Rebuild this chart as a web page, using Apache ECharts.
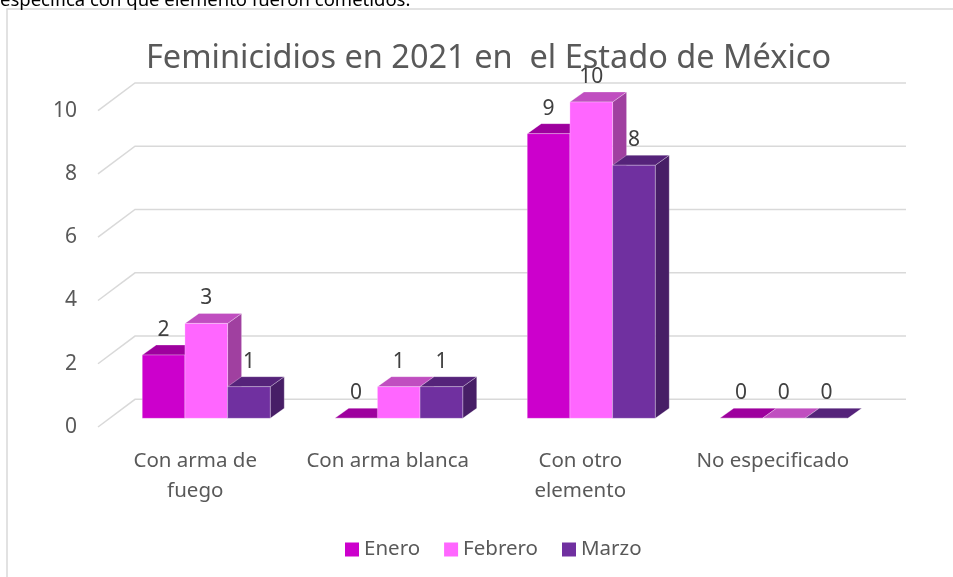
<!DOCTYPE html>
<html>
<head>
<meta charset="utf-8">
<script src="https://cdn.jsdelivr.net/npm/echarts@6/dist/echarts.min.js"></script>
<style>
  html, body { margin: 0; padding: 0; background: #fff; }
  #chart { width: 953px; height: 577px; }
</style>
</head>
<body>
<div id="chart"></div>
<script>
// datos
const categories = ['Con arma de\nfuego', 'Con arma blanca', 'Con otro\nelemento', 'No especificado'];
const enero = [2, 0, 9, 0];
const febrero = [3, 1, 10, 0];
const marzo = [1, 1, 8, 0];
const yTicks = [0, 2, 4, 6, 8, 10];

const FONT = '"Noto Sans", sans-serif';
const DEPTH_X = 14, DEPTH_Y = 10;   // profundidad de cada barra
const BAR_SHIFT = -8.7;             // plano frontal de las barras respecto a las etiquetas

// caras: frente, arriba, lado
const colorsEnero = ['#CC00CC', '#9E009E', '#8A008A'];
const colorsFebrero = ['#FF66FF', '#C04EC0', '#A040A0'];
const colorsMarzo = ['#7030A0', '#55237A', '#471E66'];

function barRenderer(slot, faces) {
  return function (params, api) {
    const idx = api.value(0);
    const val = api.value(1);
    const top = api.coord([idx, val]);
    const base = api.coord([idx, 0]);
    const bw = api.size([1, 0])[0] * 0.2216;
    const x0 = top[0] + slot * bw - bw / 2;
    const x1 = x0 + bw;
    const yt = top[1] + BAR_SHIFT;
    const yb = base[1] + BAR_SHIFT;
    const edge = { stroke: 'rgba(255,255,255,0.35)', lineWidth: 0.8 };
    return {
      type: 'group',
      children: [
        {
          type: 'polygon',
          shape: { points: [[x1, yt], [x1 + DEPTH_X, yt - DEPTH_Y], [x1 + DEPTH_X, yb - DEPTH_Y], [x1, yb]] },
          style: Object.assign({ fill: faces[2] }, edge)
        },
        {
          type: 'polygon',
          shape: { points: [[x0, yt], [x0 + DEPTH_X, yt - DEPTH_Y], [x1 + DEPTH_X, yt - DEPTH_Y], [x1, yt]] },
          style: Object.assign({ fill: faces[1] }, edge)
        },
        {
          type: 'rect',
          shape: { x: x0, y: yt, width: bw, height: yb - yt },
          style: Object.assign({ fill: faces[0] }, edge)
        },
        {
          type: 'text',
          style: {
            text: String(val),
            x: (x0 + x1) / 2,
            y: yt - 25,
            align: 'center',
            verticalAlign: 'middle',
            fill: '#404040',
            font: '21px ' + FONT
          }
        }
      ]
    };
  };
}

function wallRenderer(params, api) {
  const cs = params.coordSys;
  const y = api.coord([0, api.value(1)])[1];
  return {
    type: 'polyline',
    shape: {
      points: [[cs.x - 12, y], [cs.x + 25, y - 27.7], [cs.x + cs.width + 26, y - 27.7]]
    },
    style: { stroke: '#D9D9D9', lineWidth: 1.5, fill: null }
  };
}

function toPairs(arr) {
  return arr.map((v, i) => [i, v]);
}

const chart = echarts.init(document.getElementById('chart'));
const option = {
  backgroundColor: '#fff',
  animation: false,
  title: {
    text: 'Feminicidios en 2021 en  el Estado de México',
    left: 141,
    top: 37,
    textStyle: { fontFamily: FONT, fontSize: 32.5, fontWeight: 'normal', color: '#595959' }
  },
  graphic: [
    {
      type: 'rect',
      shape: { x: 7, y: 9, width: 960, height: 600 },
      style: { fill: null, stroke: '#D9D9D9', lineWidth: 1.5 },
      silent: true
    },
    {
      // línea del documento que queda cortada arriba
      type: 'text',
      x: 0,
      y: -9,
      style: {
        text: 'especifica con que elemento fueron cometidos.',
        fill: '#000',
        font: '18.5px ' + FONT
      }
    }
  ],
  legend: {
    top: 534,
    left: 340,
    icon: 'rect',
    itemWidth: 14,
    itemHeight: 14,
    itemGap: 24,
    textStyle: { fontFamily: FONT, fontSize: 20.5, color: '#595959' },
    data: ['Enero', 'Febrero', 'Marzo']
  },
  grid: { left: 110, right: 73, top: 110.7, bottom: 150 },
  xAxis: {
    type: 'category',
    data: categories,
    axisLine: { show: false },
    axisTick: { show: false },
    axisLabel: {
      margin: 19,
      interval: 0,
      fontFamily: FONT,
      fontSize: 20.5,
      lineHeight: 30,
      padding: [0, 22, 0, 0],
      color: '#595959'
    }
  },
  yAxis: {
    type: 'value',
    min: 0,
    max: 10,
    interval: 2,
    splitLine: { show: false },
    axisLine: { show: false },
    axisTick: { show: false },
    axisLabel: { margin: 33, fontFamily: FONT, fontSize: 21, color: '#595959' }
  },
  series: [
    {
      type: 'custom',
      name: 'pared',
      silent: true,
      renderItem: wallRenderer,
      encode: { x: 0, y: 1 },
      data: yTicks.map(v => [0, v]),
      z: 1
    },
    {
      type: 'custom',
      name: 'Enero',
      itemStyle: { color: colorsEnero[0] },
      renderItem: barRenderer(-1, colorsEnero),
      encode: { x: 0, y: 1 },
      data: toPairs(enero),
      z: 2
    },
    {
      type: 'custom',
      name: 'Febrero',
      itemStyle: { color: colorsFebrero[0] },
      renderItem: barRenderer(0, colorsFebrero),
      encode: { x: 0, y: 1 },
      data: toPairs(febrero),
      z: 2
    },
    {
      type: 'custom',
      name: 'Marzo',
      itemStyle: { color: colorsMarzo[0] },
      renderItem: barRenderer(1, colorsMarzo),
      encode: { x: 0, y: 1 },
      data: toPairs(marzo),
      z: 2
    }
  ]
};
chart.setOption(option);
</script>
</body>
</html>
